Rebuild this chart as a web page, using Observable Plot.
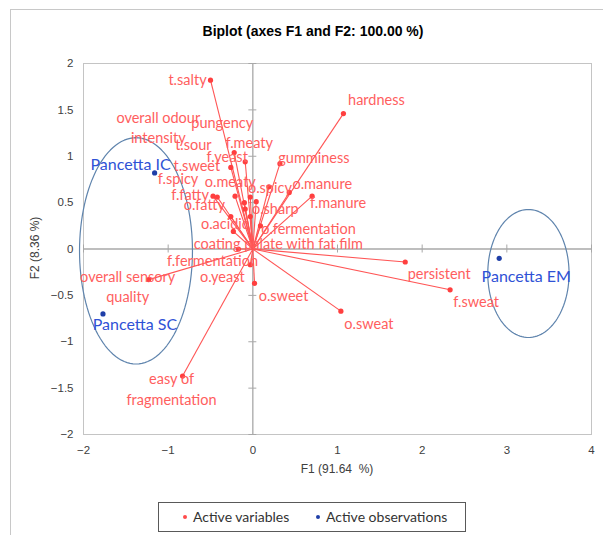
<!DOCTYPE html>
<html>
<head>
<meta charset="utf-8">
<script src="https://cdn.jsdelivr.net/npm/d3@7"></script>
<script src="https://cdn.jsdelivr.net/npm/@observablehq/plot@0.6"></script>
<style>
  html, body { margin: 0; padding: 0; background: #fff; }
  #wrap { position: relative; width: 603px; height: 535px; overflow: hidden; background: #fff; }
  #border { position: absolute; left: 10px; top: 9px; width: 700px; height: 600px; border-left: 1px solid #c8c8c8; border-top: 1px solid #c8c8c8; }
  #title { position: absolute; left: 10px; width: 606px; top: 23px; text-align: center; font: bold 14px "Liberation Sans", Arial, sans-serif; color: #000; }
  #chart { position: absolute; left: 0; top: 0; }
  .axtitle { position: absolute; font: 12px "Liberation Sans", Arial, sans-serif; color: #404040; white-space: pre; }
  #xtitle { left: 83px; width: 508px; top: 462px; text-align: center; }
  #ytitle { left: 35px; top: 248px; transform: translate(-50%, -50%) rotate(-90deg); }
  #legend { position: absolute; left: 158px; top: 502px; width: 306px; height: 28px; border: 1px solid #595959; font: 14px Lato, sans-serif; color: #333; }
  .li { position: absolute; top: 5px; }
  .sw { position: absolute; top: 12px; width: 4px; height: 4px; border-radius: 50%; }
</style>
</head>
<body>
<div id="wrap">
  <div id="border"></div>
  <div id="title">Biplot (axes F1 and F2: 100.00 %)</div>
  <div id="chart"></div>
  <div class="axtitle" id="xtitle">F1 (91.64  %)</div>
  <div class="axtitle" id="ytitle">F2 (8.36 %)</div>
  <div id="legend">
    <span class="sw" style="left:24px;background:#ff4b4b"></span><span class="li" style="left:34px">Active variables</span>
    <span class="sw" style="left:157px;background:#1f3fa8"></span><span class="li" style="left:167px">Active observations</span>
  </div>
</div>
<script>
// ---- Data ----
const varNames = ["t.salty","hardness","gumminess","o.manure","f.manure","o.spicy","pungency","f.meaty","t.sweet","f.fatty","o.fatty","f.spicy","o.meaty","o.sharp","t.sour","f.yeast","o.acidic","overall odour\nintensity","coating palate with fat film","o.fermentation","f.fermentation","o.yeast","o.sweet","overall sensory\nquality","persistent","f.sweat","o.sweat","easy of\nfragmentation"];
const varF1 = [-0.50, 1.07, 0.32, 0.43, 0.70, 0.19, -0.22, -0.09, -0.26, -0.47, -0.42, -0.21, -0.03, 0.04, -0.10, -0.09, -0.26, -0.03, -0.23, 0.09, -0.17, -0.03, 0.02, -1.23, 1.80, 2.33, 1.04, -0.83];
const varF2 = [1.82, 1.46, 0.92, 0.61, 0.57, 0.67, 1.04, 0.94, 0.88, 0.57, 0.56, 0.57, 0.56, 0.51, 0.50, 0.43, 0.35, 0.35, 0.19, 0.25, 0.00, -0.17, -0.37, -0.33, -0.14, -0.44, -0.67, -1.37];

const obsNames = ["Pancetta IC", "Pancetta SC", "Pancetta EM"];
const obsF1 = [-1.16, -1.77, 2.91];
const obsF2 = [0.82, -0.70, -0.10];

// confidence ellipses drawn around the observations
const ellipseCX = [-1.38, 3.255];
const ellipseCY = [-0.02, -0.264];
const ellipseRX = [0.667, 0.48];
const ellipseRY = [1.22, 0.69];

const xTicks = [-2, -1, 0, 1, 2, 3, 4];
const yTicks = [-2, -1.5, -1, -0.5, 0, 0.5, 1, 1.5, 2];

// ---- Layout: label offsets (px) from each point ----
const varLabelOffset = {
  "t.salty": [-23, -2], "hardness": [33, -15], "gumminess": [34, -7], "o.manure": [33, -10],
  "f.manure": [26, 5], "o.spicy": [1, 0], "pungency": [-12, -31], "f.meaty": [4, -20],
  "t.sweet": [-34, -3], "f.fatty": [-23, -3], "o.fatty": [-13, 6], "f.spicy": [-57, -19],
  "o.meaty": [-20, -17], "o.sharp": [19, 6], "t.sour": [-51, -59], "f.yeast": [-18, -54],
  "o.acidic": [-6, 6], "overall odour\nintensity": [-92, -90], "coating palate with fat film": [45, 11],
  "o.fermentation": [48, 2], "f.fermentation": [-26, 10], "o.yeast": [-28, 11], "o.sweet": [29, 11],
  "overall sensory\nquality": [-21, 6], "persistent": [34, 11], "f.sweat": [26, 11],
  "o.sweat": [28, 11], "easy of\nfragmentation": [-11, 12]
};
const obsLabelOffset = { "Pancetta IC": [-24, -8], "Pancetta SC": [32, 11], "Pancetta EM": [27, 19] };

const vars = varNames.map((n, i) => ({label: n, x: varF1[i], y: varF2[i]}));
const obs = obsNames.map((n, i) => ({label: n, x: obsF1[i], y: obsF2[i]}));

const ellipsePts = [];
ellipseCX.forEach((cx, k) => {
  for (let j = 0; j <= 120; j++) {
    const t = (j / 120) * 2 * Math.PI;
    ellipsePts.push({k, x: cx + ellipseRX[k] * Math.cos(t), y: ellipseCY[k] + ellipseRY[k] * Math.sin(t)});
  }
});

const RED_LINE = "#ff5555";
const RED_TEXT = "#ff5e5e";
const BLUE = "#1f3fa8";
const BLUE_TEXT = "#2f52d6";

const labelFont = {fontFamily: "Lato, sans-serif", fontSize: 14.5, lineHeight: 1.4};
const fmt = d => (d < 0 ? "\u2212" : "") + String(Math.abs(d));

const marks = [
  Plot.frame({stroke: "#c4c4c4"}),
  Plot.ruleX([0], {stroke: "#a8a8a8", strokeWidth: 1.3}),
  Plot.ruleY([0], {stroke: "#a8a8a8", strokeWidth: 1.3}),
  Plot.ruleY(yTicks, {y: d => d, x1: 0, x2: 0, insetLeft: -4, insetRight: -4, stroke: "#a8a8a8"}),
  Plot.ruleX(xTicks, {x: d => d, y1: 0, y2: 0, insetTop: -4, insetBottom: -4, stroke: "#a8a8a8"}),
  Plot.line(ellipsePts, {x: "x", y: "y", z: "k", stroke: "#5f84ad", strokeWidth: 1.2}),
  Plot.link(vars, {x1: 0, y1: 0, x2: "x", y2: "y", stroke: RED_LINE, strokeWidth: 1.1}),
  Plot.dot(vars, {x: "x", y: "y", r: 2.6, fill: "#ff3f3f"}),
  ...vars.map(d => Plot.text([d], {x: "x", y: "y", text: "label", fill: RED_TEXT,
      dx: varLabelOffset[d.label][0], dy: varLabelOffset[d.label][1], ...labelFont})),
  Plot.dot(obs, {x: "x", y: "y", r: 2.6, fill: BLUE}),
  ...obs.map(d => Plot.text([d], {x: "x", y: "y", text: "label", fill: BLUE_TEXT,
      dx: obsLabelOffset[d.label][0], dy: obsLabelOffset[d.label][1], fontFamily: "Lato, sans-serif", fontSize: 16}))
];

const chart = Plot.plot({
  width: 603,
  height: 480,
  marginTop: 63,
  marginBottom: 46,
  marginLeft: 83,
  marginRight: 12,
  style: {fontFamily: "'Liberation Sans', Arial, sans-serif", fontSize: "11.5px", color: "#404040", background: "transparent", overflow: "visible"},
  x: {domain: [-2, 4], ticks: xTicks, tickFormat: fmt, tickSize: 0, tickPadding: 11, label: null},
  y: {domain: [-2, 2], ticks: yTicks, tickFormat: fmt, tickSize: 0, tickPadding: 10, label: null},
  marks
});
document.getElementById("chart").appendChild(chart);
</script>
</body>
</html>
